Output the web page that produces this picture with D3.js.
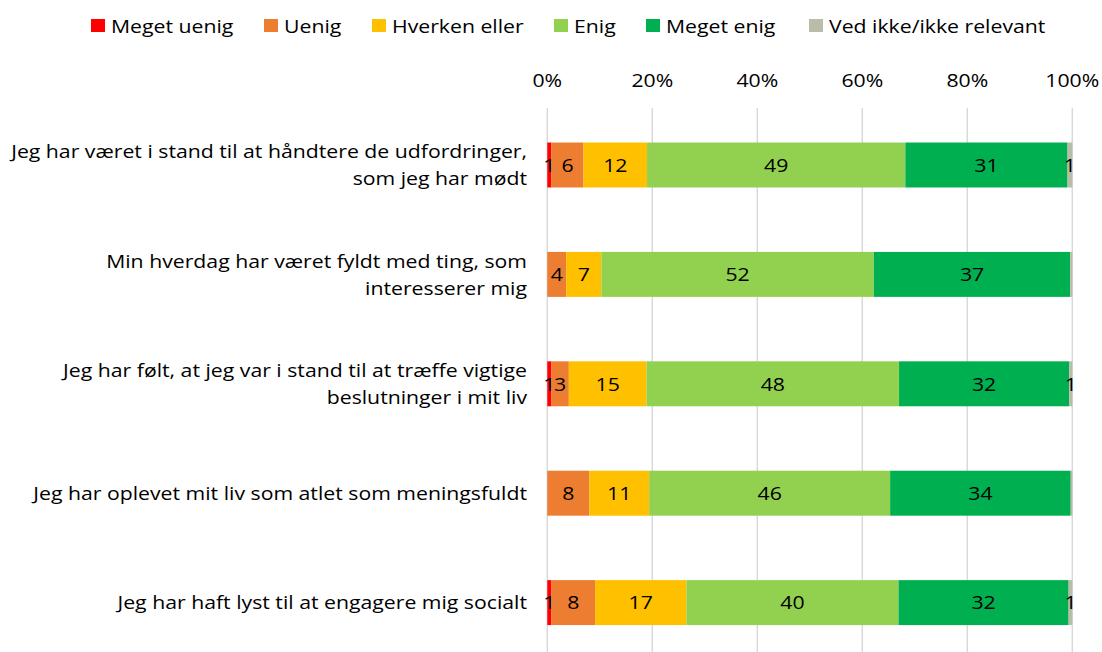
<!DOCTYPE html>
<html><head><meta charset="utf-8">
<script src="https://cdn.jsdelivr.net/npm/d3@7"></script>
<style>body{margin:0;background:#fff}svg{display:block}text{font-family:"Open Sans",sans-serif;fill:#000}</style>
</head><body><svg id="c" width="1102" height="652"></svg>
<script>
const categories = [
  ["Jeg har været i stand til at håndtere de udfordringer,", "som jeg har mødt"],
  ["Min hverdag har været fyldt med ting, som", "interesserer mig"],
  ["Jeg har følt, at jeg var i stand til at træffe vigtige", "beslutninger i mit liv"],
  ["Jeg har oplevet mit liv som atlet som meningsfuldt"],
  ["Jeg har haft lyst til at engagere mig socialt"]
];
const seriesNames = ["Meget uenig","Uenig","Hverken eller","Enig","Meget enig","Ved ikke/ikke relevant"];
const seriesColors = ["#FF0000","#ED7D31","#FFC000","#92D050","#00B050","#BBBBA9"];
const meget_uenig = [0.8, 0,   0.8, 0,    0.8];
const uenig       = [6.1, 3.6, 3.3, 8.0,  8.3];
const hverken     = [12.1,6.7, 14.8,11.4, 17.4];
const enig        = [49.2,51.9,48.1,45.9, 40.4];
const meget_enig  = [30.9,37.4,32.4,34.4, 32.4];
const ved_ikke    = [0.9, 0.4, 0.6, 0.3,  0.7];
const tickValues = [0,20,40,60,80,100];

const FS = 18, SX = 1.18;
const svg = d3.select("#c");
const x = d3.scaleLinear().domain([0,100]).range([547.3,1072.3]);
const y = d3.scaleBand().domain(d3.range(categories.length)).range([110.3,657.3]).paddingInner(0.589).paddingOuter(0.2945);

function label(g, ax, ay, txt, anchor){
  return g.append("text").attr("transform",`translate(${ax},${ay}) scale(${SX},1)`)
    .attr("text-anchor",anchor).attr("dominant-baseline","central").attr("font-size",FS).text(txt);
}

const rows = categories.map((c,i)=>({i, vals:[meget_uenig[i],uenig[i],hverken[i],enig[i],meget_enig[i],ved_ikke[i]]}));

svg.append("g").selectAll("line").data(tickValues).join("line")
  .attr("x1",d=>x(d)).attr("x2",d=>x(d)).attr("y1",108).attr("y2",652)
  .attr("stroke","#D9D9D9").attr("stroke-width",1.5);

const tg = svg.append("g");
tickValues.forEach(d=>label(tg, x(d), 80, d+"%", "middle"));

const stack = rows.map(r=>{let acc=0;return r.vals.map((v,k)=>{const s={row:r.i,k,v,x0:acc,x1:acc+v};acc+=v;return s;});}).flat();
svg.append("g").selectAll("rect").data(stack).join("rect")
  .attr("x",d=>x(d.x0)).attr("width",d=>x(d.x1)-x(d.x0))
  .attr("y",d=>y(d.row)).attr("height",y.bandwidth())
  .attr("fill",d=>seriesColors[d.k]);

const vg = svg.append("g");
stack.filter(d=>Math.round(d.v)>0).forEach(d=>
  label(vg, x((d.x0+d.x1)/2), y(d.row)+y.bandwidth()/2, Math.round(d.v), "middle"));

const cg = svg.append("g");
categories.forEach((lines,i)=>{
  const cy=y(i)+y.bandwidth()/2, lh=27;
  lines.forEach((l,j)=>label(cg, 527, cy+(j-(lines.length-1)/2)*lh, l, "end"));
});

const legX=[91,264,372,554,646,809];
const lgG=svg.append("g");
seriesNames.forEach((n,i)=>{
  lgG.append("rect").attr("x",legX[i]).attr("y",19).attr("width",14).attr("height",13).attr("fill",seriesColors[i]);
  label(lgG, legX[i]+20, 26, n, "start");
});
</script></body></html>
